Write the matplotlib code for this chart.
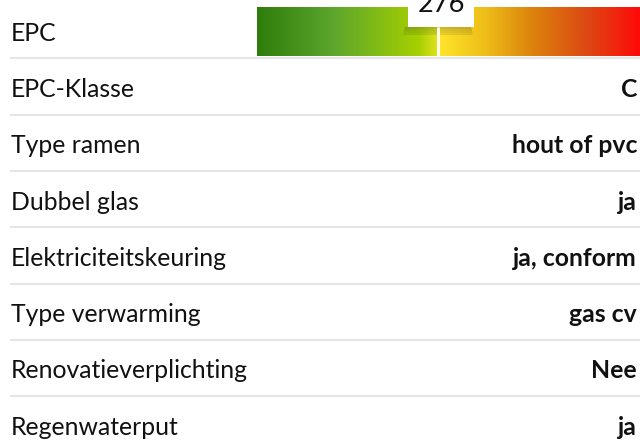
import numpy as np
import matplotlib
matplotlib.use("Agg")
import matplotlib.pyplot as plt
from matplotlib.colors import LinearSegmentedColormap
from matplotlib.patches import Rectangle

plt.rcParams['font.family'] = ['Lato', 'DejaVu Sans']

labels = ["EPC", "EPC-Klasse", "Type ramen", "Dubbel glas",
          "Elektriciteitskeuring", "Type verwarming",
          "Renovatieverplichting", "Regenwaterput"]
values = [None, "C", "hout of pvc", "ja", "ja, conform", "gas cv", "Nee", "ja"]
epc_value = 276
epc_min, epc_max = 0, 584

W, H = 640, 441
fig = plt.figure(figsize=(W / 100, H / 100), dpi=100)

# EPC gradient bar axes (below overlay)
bx0, by0, bw, bh = 257, 7, W - 257, 49
bax = fig.add_axes([bx0 / W, 1 - (by0 + bh) / H, bw / W, bh / H])
bax.set_zorder(0)
stops = [(0.0, '#2f7d0c'), (0.2, '#5ca62c'), (0.42, '#a5cf00'),
         (0.47, '#dde21c'), (0.475, '#ffe52a'), (0.6, '#edbc18'),
         (0.72, '#dc820c'), (0.86, '#dc4a14'), (1.0, '#ff0a0a')]
cmap = LinearSegmentedColormap.from_list('epc', stops)
grad = np.linspace(0, 1, 512)[None, :]
bax.imshow(grad, aspect='auto', cmap=cmap, extent=[epc_min, epc_max, 0, 1])
bax.set_xlim(epc_min, epc_max)
bax.set_ylim(0, 1)
bax.axis('off')

# overlay axes in pixel coordinates
ax = fig.add_axes([0, 0, 1, 1])
ax.set_zorder(1)
ax.set_xlim(0, W)
ax.set_ylim(H, 0)
ax.axis('off')

row_h = 56.3
first_base = 40.7
for i, (lab, val) in enumerate(zip(labels, values)):
    yb = first_base + i * row_h
    ax.text(11, yb, lab, fontsize=17.8, color='#111111', va='baseline', ha='left')
    if val is not None:
        ax.text(637, yb, val, fontsize=17.8, fontweight='bold', color='#111111',
                va='baseline', ha='right')
    if i < len(labels) - 1:
        ly = yb + 17.6
        ax.plot([10, W], [ly, ly], color='#e6e6e6', lw=1.6, solid_capstyle='butt')

mx = bx0 + (epc_value - epc_min) / (epc_max - epc_min) * bw
# shadow under label box
for k, a in enumerate([0.16, 0.10, 0.07, 0.04]):
    ax.add_patch(Rectangle((mx - 33 - k, 27 + 2 * k), 66 + 2 * k, 2.2,
                           facecolor='#333333', alpha=a, lw=0, zorder=3))
ax.add_patch(Rectangle((mx - 34, 27), 68, 8, facecolor='#333333', alpha=0.08, lw=0, zorder=3))
# marker line
ax.plot([mx, mx], [27, by0 + bh], color='white', lw=2, solid_capstyle='butt', zorder=4)
# label box
ax.add_patch(Rectangle((mx - 30, -10), 66, 37, facecolor='white', edgecolor='none', zorder=5))
ax.text(mx + 3, 12.5, str(epc_value), fontsize=19.5, color='#111111', ha='center',
        va='baseline', zorder=6)

fig.savefig('out.png', dpi=100)
